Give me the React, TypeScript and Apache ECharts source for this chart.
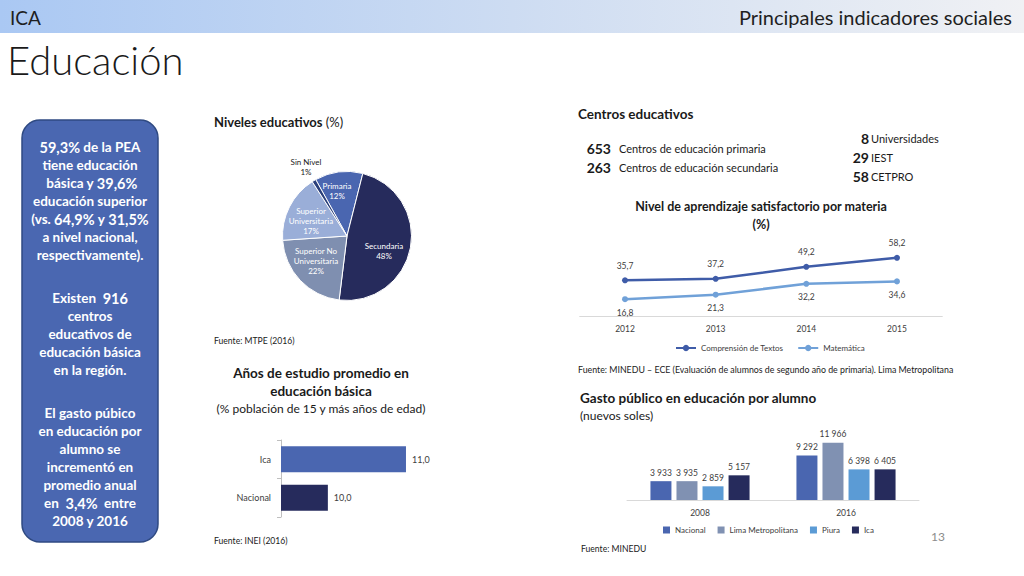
import React, { useEffect, useRef } from "react";
import * as echarts from "echarts";

const pieNames = ["Primaria", "Secundaria", "Superior No\nUniversitaria", "Superior\nUniversitaria", "Sin Nivel"];
const pieValues = [12, 48, 22, 17, 1];

const yearsCats = ["Nacional", "Ica"];
const yearsValues = [10.0, 11.0];

const lineCats = ["2012", "2013", "2014", "2015"];
const compTextos = [35.7, 37.2, 49.2, 58.2];
const matematica = [16.8, 21.3, 32.2, 34.6];

const gastoCats = ["2008", "2016"];
const gastoNacional = [3933, 9292];
const gastoLima = [3935, 11966];
const gastoPiura = [2859, 6398];
const gastoIca = [5157, 6405];

const centros = [
  ["653", "Centros de educación primaria"],
  ["263", "Centros de educación secundaria"],
];
const superiores = [
  ["8", "Universidades"],
  ["29", "IEST"],
  ["58", "CETPRO"],
];

const FONT = "Lato";
const TXT = "#404040";

const fmtThousands = (v: number) => String(v).replace(/\B(?=(\d{3})+(?!\d))/g, " ");
const fmtComma = (v: number) => v.toFixed(1).replace(".", ",");

export default function App() {
  const ref = useRef<HTMLDivElement>(null);
  useEffect(() => {
    if (!ref.current) return;
    const chart = echarts.init(ref.current, null, { renderer: "svg" });

    const pieColors = ["#4a66b0", "#262b5c", "#7f8fb0", "#9aaed8", "#2a3f7a"];
    const pieLabelPos = [
      [337, 191],
      [384, 251],
      [316, 261],
      [311, 221],
      [306, 167],
    ];

    const boxLines: string[] = [
      "{n|59,3%} {t|de la PEA}",
      "{t|tiene educación}",
      "{t| básica y }{n|39,6%}",
      "{t|educación superior}",
      "{t|(vs. }{n|64,9%}{t| y }{n|31,5%}",
      "{t|a nivel nacional,}",
      "{t|respectivamente).}",
    ];
    const boxLines2 = [
      "{t|Existen  }{n|916}",
      "{t|centros}",
      "{t|educativos de}",
      "{t|educación básica}",
      "{t|en la región.}",
    ];
    const boxLines3 = [
      "{t|El gasto púbico}",
      "{t|en educación por}",
      "{t|alumno se}",
      "{t|incrementó en}",
      "{t|promedio anual}",
      "{t|en  }{n|3,4%}{t|  entre}",
      "{t|2008 y 2016}",
    ];
    const rich = {
      n: { fontSize: 14.5, fontWeight: "bold", fill: "#fff", fontFamily: FONT },
      t: { fontSize: 13.5, fontWeight: "bold", fill: "#fff", fontFamily: FONT },
    };
    const boxTexts: any[] = [];
    boxLines.forEach((l, i) =>
      boxTexts.push({ type: "text", x: 90, y: 147 + i * 18, style: { text: l, rich, align: "center", verticalAlign: "middle" } })
    );
    boxLines2.forEach((l, i) =>
      boxTexts.push({ type: "text", x: 90, y: 298 + i * 18, style: { text: l, rich, align: "center", verticalAlign: "middle" } })
    );
    boxLines3.forEach((l, i) =>
      boxTexts.push({ type: "text", x: 90, y: 413 + i * 18, style: { text: l, rich, align: "center", verticalAlign: "middle" } })
    );

    const centrosTexts: any[] = [];
    centros.forEach((c, i) => {
      centrosTexts.push({ type: "text", x: 611, y: 148 + i * 19, style: { text: c[0], align: "right", verticalAlign: "middle", fontSize: 14, fontWeight: "bold", fill: "#1a1a1a", fontFamily: FONT } });
      centrosTexts.push({ type: "text", x: 619, y: 148 + i * 19, style: { text: c[1], align: "left", verticalAlign: "middle", fontSize: 11, fill: "#1a1a1a", fontFamily: FONT } });
    });
    superiores.forEach((c, i) => {
      centrosTexts.push({ type: "text", x: 869, y: 138 + i * 19, style: { text: c[0], align: "right", verticalAlign: "middle", fontSize: 14, fontWeight: "bold", fill: "#1a1a1a", fontFamily: FONT } });
      centrosTexts.push({ type: "text", x: 871, y: 138 + i * 19, style: { text: c[1], align: "left", verticalAlign: "middle", fontSize: 11, fill: "#1a1a1a", fontFamily: FONT } });
    });

    const labelStyle = { fontFamily: FONT, fontSize: 8.5, color: TXT };
    const SRC = 8.6;

    const option: any = {
      animation: false,
      backgroundColor: "#ffffff",
      textStyle: { fontFamily: FONT },
      graphic: [
        {
          type: "rect",
          shape: { x: 0, y: 0, width: 1024, height: 33 },
          style: {
            fill: new echarts.graphic.LinearGradient(0, 0, 1, 0, [
              { offset: 0, color: "#aac8f3" },
              { offset: 0.5, color: "#cddcf2" },
              { offset: 1, color: "#f0f1f4" },
            ]),
          },
          silent: true,
        },
        { type: "text", x: 10, y: 17, style: { text: "ICA", fontSize: 19, fill: "#1f1f1f", fontFamily: FONT, verticalAlign: "middle" } },
        { type: "text", x: 1012, y: 17, style: { text: "Principales indicadores sociales", fontSize: 20, fill: "#1f1f1f", fontFamily: FONT, align: "right", verticalAlign: "middle" } },
        { type: "text", x: 7, y: 60, style: { text: "Educación", fontSize: 40, fontWeight: 300, fill: "#1a1a1a", fontFamily: FONT, verticalAlign: "middle" } },
        {
          type: "rect",
          shape: { x: 22, y: 120, width: 136, height: 422, r: 18 },
          style: { fill: "#4a67b1", stroke: "#2f4a82", lineWidth: 1.5 },
        },
        ...boxTexts,
        { type: "text", x: 214, y: 122, style: { text: "{b|Niveles educativos} {r|(%)}", verticalAlign: "middle", rich: { b: { fontSize: 13, fontWeight: "bold", fill: "#1a1a1a", fontFamily: FONT }, r: { fontSize: 13, fill: "#1a1a1a", fontFamily: FONT } } } },
        { type: "text", x: 214, y: 341, style: { text: "Fuente: MTPE (2016)", fontSize: SRC, fill: "#1a1a1a", fontFamily: FONT, verticalAlign: "middle" } },
        { type: "text", x: 321, y: 382, style: { text: "Años de estudio promedio en\neducación básica", fontSize: 13.5, lineHeight: 18, fontWeight: "bold", fill: "#1a1a1a", fontFamily: FONT, align: "center", verticalAlign: "middle" } },
        { type: "text", x: 321, y: 408, style: { text: "(% población de 15 y más años de edad)", fontSize: 12, fill: "#1a1a1a", fontFamily: FONT, align: "center", verticalAlign: "middle" } },
        { type: "text", x: 214, y: 541, style: { text: "Fuente: INEI (2016)", fontSize: SRC, fill: "#1a1a1a", fontFamily: FONT, verticalAlign: "middle" } },
        { type: "text", x: 578, y: 114, style: { text: "Centros educativos", fontSize: 13.5, fontWeight: "bold", fill: "#1a1a1a", fontFamily: FONT, verticalAlign: "middle" } },
        ...centrosTexts,
        { type: "text", x: 761, y: 215, style: { text: "Nivel de aprendizaje satisfactorio por materia\n(%)", fontSize: 12.5, lineHeight: 18, fontWeight: "bold", fill: "#1a1a1a", fontFamily: FONT, align: "center", verticalAlign: "middle" } },
        { type: "text", x: 578, y: 369, style: { text: "Fuente: MINEDU – ECE (Evaluación de alumnos de segundo año de primaria). Lima Metropolitana", fontSize: 8.8, fill: "#1a1a1a", fontFamily: FONT, verticalAlign: "middle" } },
        { type: "text", x: 580, y: 398, style: { text: "Gasto público en educación por alumno", fontSize: 13.5, fontWeight: "bold", fill: "#1a1a1a", fontFamily: FONT, verticalAlign: "middle" } },
        { type: "text", x: 580, y: 415, style: { text: "(nuevos soles)", fontSize: 12, fill: "#1a1a1a", fontFamily: FONT, verticalAlign: "middle" } },
        { type: "text", x: 581, y: 549, style: { text: "Fuente: MINEDU", fontSize: SRC, fill: "#1a1a1a", fontFamily: FONT, verticalAlign: "middle" } },
        { type: "text", x: 945, y: 536, style: { text: "13", fontSize: 12, fill: "#8c8c8c", fontFamily: FONT, align: "right", verticalAlign: "middle" } },
      ],
      legend: [
        {
          data: ["Comprensión de Textos", "Matemática"],
          left: 670,
          top: 339,
          itemWidth: 20,
          itemHeight: 8,
          itemGap: 14,
          textStyle: { fontSize: 8, color: TXT, fontFamily: FONT },
        },
        {
          data: ["Nacional", "Lima Metropolitana", "Piura", "Ica"],
          left: 658,
          top: 521,
          icon: "rect",
          itemWidth: 7,
          itemHeight: 7,
          itemGap: 12,
          textStyle: { fontSize: 8, color: TXT, fontFamily: FONT },
        },
      ],
      grid: [
        { left: 281, top: 440, width: 140.6, height: 77 },
        { left: 579.7, top: 246, width: 362.6, height: 70 },
        { left: 627, top: 433, width: 292, height: 67 },
      ],
      xAxis: [
        { gridIndex: 0, type: "value", min: 9.4, max: 11.2, show: false },
        {
          gridIndex: 1,
          type: "category",
          data: lineCats,
          axisLine: { lineStyle: { color: "#d9d9d9", width: 1 } },
          axisTick: { show: false },
          axisLabel: { ...labelStyle, margin: 8 },
        },
        {
          gridIndex: 2,
          type: "category",
          data: gastoCats,
          axisLine: { lineStyle: { color: "#d9d9d9", width: 1 } },
          axisTick: { show: false },
          axisLabel: { ...labelStyle, margin: 8 },
        },
      ],
      yAxis: [
        {
          gridIndex: 0,
          type: "category",
          data: yearsCats,
          axisLine: { lineStyle: { color: "#bfbfbf" } },
          axisTick: { show: true, length: 4, lineStyle: { color: "#bfbfbf" } },
          axisLabel: { ...labelStyle, fontSize: 9, margin: 10 },
        },
        { gridIndex: 1, type: "value", min: 0, max: 70, show: false, splitLine: { show: false } },
        { gridIndex: 2, type: "value", min: 0, max: 14000, show: false, splitLine: { show: false } },
      ],
      series: [
        {
          type: "pie",
          center: [347, 236],
          radius: 64.5,
          startAngle: 119,
          clockwise: true,
          data: pieNames.map((n, i) => ({
            name: n,
            value: pieValues[i],
            itemStyle: { color: pieColors[i] },
            label: i === 4 ? { color: "#1a1a1a" } : undefined,
          })),
          itemStyle: { borderColor: "#ffffff", borderWidth: 1 },
          label: {
            position: "inside",
            formatter: (p: any) => `${p.name}\n${p.value}%`,
            fontSize: 8,
            lineHeight: 10,
            color: "#ffffff",
            fontFamily: FONT,
          },
          labelLine: { show: false },
          labelLayout: (p: any) => ({
            x: pieLabelPos[p.dataIndex][0],
            y: pieLabelPos[p.dataIndex][1],
            align: "center",
            verticalAlign: "middle",
          }),
          emphasis: { disabled: true },
        },
        {
          type: "bar",
          xAxisIndex: 0,
          yAxisIndex: 0,
          data: yearsValues.map((v, i) => ({ value: v, itemStyle: { color: i === 1 ? "#4a66b0" : "#262b5c" } })),
          barWidth: 26,
          label: { show: true, position: "right", distance: 6, formatter: (p: any) => fmtComma(p.value), ...labelStyle, fontSize: 9 },
        },
        {
          type: "line",
          name: "Comprensión de Textos",
          xAxisIndex: 1,
          yAxisIndex: 1,
          data: compTextos,
          color: "#3f5ca8",
          lineStyle: { width: 2.5, color: "#3f5ca8" },
          symbol: "circle",
          symbolSize: 6,
          label: { show: true, position: "top", distance: 7, formatter: (p: any) => fmtComma(p.value), ...labelStyle },
        },
        {
          type: "line",
          name: "Matemática",
          xAxisIndex: 1,
          yAxisIndex: 1,
          data: matematica,
          color: "#70a1d8",
          lineStyle: { width: 2.5, color: "#70a1d8" },
          symbol: "circle",
          symbolSize: 6,
          label: { show: true, position: "bottom", distance: 6, formatter: (p: any) => fmtComma(p.value), ...labelStyle },
        },
        ...[
          ["Nacional", gastoNacional, "#4a66b0"],
          ["Lima Metropolitana", gastoLima, "#8091b2"],
          ["Piura", gastoPiura, "#5b9bd5"],
          ["Ica", gastoIca, "#262b5c"],
        ].map(([name, data, color]: any) => ({
          type: "bar",
          name,
          xAxisIndex: 2,
          yAxisIndex: 2,
          data,
          color,
          barWidth: 21,
          barGap: "24%",
          label: { show: true, position: "top", distance: 4, formatter: (p: any) => fmtThousands(p.value), ...labelStyle },
        })),
      ],
    };

    chart.setOption(option);
    return () => chart.dispose();
  }, []);

  return <div ref={ref} style={{ position: "absolute", left: 0, top: 0, width: 1024, height: 576 }} />;
}
